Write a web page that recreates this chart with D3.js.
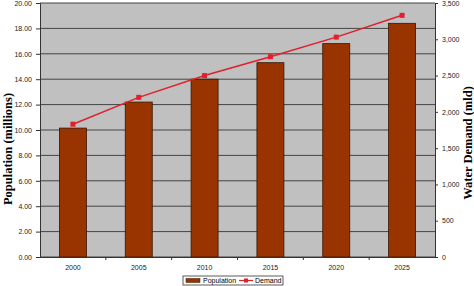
<!DOCTYPE html>
<html>
<head>
<meta charset="utf-8">
<script src="https://cdn.jsdelivr.net/npm/d3@7"></script>
<style>
  body { margin: 0; background: #fff; }
  svg { display: block; }
  .tick text { font-family: Arial, "Liberation Sans", sans-serif; font-size: 7px; fill: #222; }
</style>
</head>
<body>
<svg id="chart" width="474" height="286"></svg>
<script>
const years = ['2000', '2005', '2010', '2015', '2020', '2025'];
const population = [10.15, 12.2, 14.0, 15.3, 16.8, 18.4];
const demand = [1830, 2200, 2500, 2760, 3030, 3330];
const popTicks = [0, 2, 4, 6, 8, 10, 12, 14, 16, 18, 20];
const demandTicks = [0, 500, 1000, 1500, 2000, 2500, 3000, 3500];

const svg = d3.select('#chart');
const m = { left: 40, right: 39, top: 3, bottom: 29 };
const width = 474, height = 286;
const iw = width - m.left - m.right, ih = height - m.top - m.bottom;

const g = svg.append('g').attr('transform', `translate(${m.left},${m.top})`);

const x = d3.scaleBand().domain(years).range([0, iw]).paddingInner(0.59).paddingOuter(0.295);
const xOuter = d3.scaleBand().domain(years).range([0, iw]);
const yL = d3.scaleLinear().domain([0, 20]).range([ih, 0]);
const yR = d3.scaleLinear().domain([0, 3500]).range([ih, 0]);

// plot background
g.append('rect').attr('width', iw).attr('height', ih).attr('fill', '#c0c0c0');

// gridlines
g.selectAll('.grid').data(popTicks).enter().append('line')
  .attr('x1', 0).attr('x2', iw)
  .attr('y1', d => yL(d)).attr('y2', d => yL(d))
  .attr('stroke', '#444').attr('stroke-width', 1);

// bars
g.selectAll('.bar').data(population).enter().append('rect')
  .attr('x', (d, i) => x(years[i]))
  .attr('y', d => yL(d))
  .attr('width', x.bandwidth())
  .attr('height', d => ih - yL(d))
  .attr('fill', '#993300')
  .attr('stroke', '#3a1400').attr('stroke-width', 0.8);

// demand line
const line = d3.line()
  .x((d, i) => xOuter(years[i]) + xOuter.bandwidth() / 2)
  .y(d => yR(d));
g.append('path').datum(demand).attr('d', line)
  .attr('fill', 'none').attr('stroke', '#e0202a').attr('stroke-width', 1.5);
g.selectAll('.pt').data(demand).enter().append('rect')
  .attr('x', (d, i) => xOuter(years[i]) + xOuter.bandwidth() / 2 - 2.5)
  .attr('y', d => yR(d) - 2.5)
  .attr('width', 5).attr('height', 5)
  .attr('fill', '#e0202a');

// axes
const axL = g.append('g').call(d3.axisLeft(yL).tickValues(popTicks).tickSize(4).tickPadding(4).tickFormat(d3.format('.2f')));
const axR = g.append('g').attr('transform', `translate(${iw},0)`)
  .call(d3.axisRight(yR).tickValues(demandTicks).tickSize(3).tickPadding(4).tickFormat(d3.format(',')));
const axB = g.append('g').attr('transform', `translate(0,${ih})`)
  .call(d3.axisBottom(xOuter).tickSize(0).tickPadding(8));
// category separator ticks
g.selectAll('.sep').data(years.slice(1)).enter().append('line')
  .attr('x1', d => xOuter(d)).attr('x2', d => xOuter(d))
  .attr('y1', ih).attr('y2', ih + 3).attr('stroke', '#333');
[axL, axR, axB].forEach(a => a.selectAll('path, line').attr('stroke', '#333'));

// axis titles
svg.append('text')
  .attr('transform', `translate(12,149) rotate(-90)`)
  .attr('text-anchor', 'middle')
  .attr('font-family', '"Liberation Serif", "Times New Roman", serif')
  .attr('font-weight', 'bold').attr('font-size', 12.5)
  .text('Population (millions)');
svg.append('text')
  .attr('transform', `translate(472,143) rotate(-90)`)
  .attr('text-anchor', 'middle')
  .attr('font-family', '"Liberation Serif", "Times New Roman", serif')
  .attr('font-weight', 'bold').attr('font-size', 12.5)
  .text('Water Demand (mld)');

// legend
const lg = svg.append('g').attr('transform', 'translate(183,276)');
lg.append('rect').attr('width', 100).attr('height', 9)
  .attr('fill', '#fff').attr('stroke', '#333').attr('stroke-width', 0.8);
lg.append('rect').attr('x', 3).attr('y', 2.5).attr('width', 14).attr('height', 4)
  .attr('fill', '#993300').attr('stroke', '#3a1400').attr('stroke-width', 0.5);
lg.append('text').attr('x', 20).attr('y', 7.3)
  .attr('font-family', 'Arial, "Liberation Sans", sans-serif').attr('font-size', 7)
  .text('Population');
lg.append('line').attr('x1', 56).attr('x2', 70).attr('y1', 4.5).attr('y2', 4.5)
  .attr('stroke', '#e0202a').attr('stroke-width', 1.2);
lg.append('rect').attr('x', 61).attr('y', 2.5).attr('width', 4).attr('height', 4).attr('fill', '#e0202a');
lg.append('text').attr('x', 72).attr('y', 7.3)
  .attr('font-family', 'Arial, "Liberation Sans", sans-serif').attr('font-size', 7)
  .text('Demand');
</script>
</body>
</html>
